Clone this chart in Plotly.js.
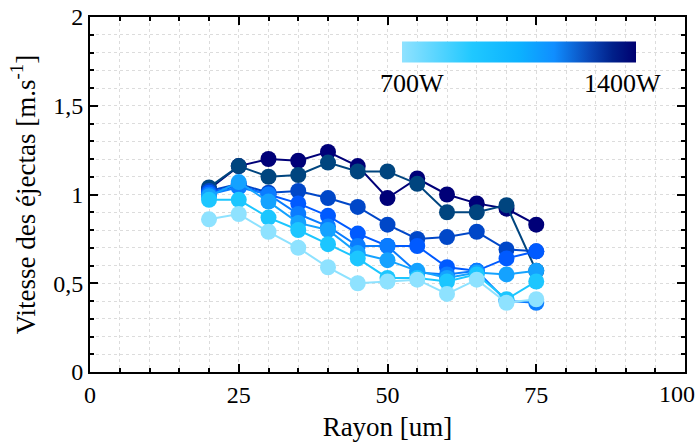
<!DOCTYPE html>
<html><head><meta charset="utf-8">
<script src="https://cdn.plot.ly/plotly-3.0.1.min.js"></script>
<style>body{margin:0;background:#fff}#g{width:700px;height:448px}</style>
</head><body><div id="g"></div>
<script>
const rayon = [20,25,30,35,40,45,50,55,60,65,70,75];
const s700  = [0.86,0.89,0.79,0.70,0.59,0.50,0.51,0.52,0.44,0.52,0.39,0.41];
const s800  = [0.97,0.97,0.87,0.80,0.72,0.64,0.53,0.53,0.51,0.55,0.41,0.51];
const s900  = [0.99,1.07,0.96,0.84,0.80,0.67,0.63,0.57,0.53,0.56,0.55,0.57];
const s1000 = [1.00,1.04,1.00,0.89,0.82,0.71,0.71,0.56,0.55,0.57,0.40,0.39];
const s1100 = [1.01,1.05,1.00,0.95,0.88,0.78,0.71,0.71,0.59,0.57,0.64,0.68];
const s1200 = [1.02,1.06,1.01,1.02,0.98,0.93,0.83,0.75,0.76,0.79,0.69,0.68];
const s1300 = [1.04,1.16,1.10,1.11,1.18,1.13,1.13,1.06,0.90,0.90,0.94,0.57];
const s1400 = [1.03,1.16,1.20,1.19,1.24,1.16,0.98,1.09,1.00,0.95,0.92,0.83];
const series = [s700,s800,s900,s1000,s1100,s1200,s1300,s1400];
const colors = ['#8ee2ff','#1cc6ff','#14a2ff','#0a7cff','#005aff','#0047c8','#00457f','#000078'];
const powerLabels = ['700W','1400W'];
const xTickVals = [0,25,50,75,100];
const xTickText = ['0','25','50','75',''];
const xLastLabel = '100';
const colorscale = [[0,'#90e2ff'],[0.3,'#20c8ff'],[0.5,'#0cb2ff'],[0.65,'#108eff'],[0.8,'#0a48b8'],[0.9,'#00208a'],[1,'#000070']];

const traces = [];
for (let i = series.length - 1; i >= 0; i--) {
  traces.push({
    type:'scatter', mode:'lines+markers', x:rayon, y:series[i],
    line:{color:colors[i], width:2},
    marker:{color:colors[i], size:16},
    showlegend:false, hoverinfo:'skip'
  });
}
traces.push({
  type:'scatter', mode:'markers', x:[null,null], y:[null,null],
  showlegend:false, hoverinfo:'skip',
  marker:{color:[700,1400], cmin:700, cmax:1400, colorscale:colorscale, showscale:true, opacity:0,
    colorbar:{orientation:'h', x:0.721, xanchor:'center', y:0.9, yanchor:'middle',
      len:234, lenmode:'pixels', thickness:21, outlinewidth:0, showticklabels:false, ticks:'',
      xpad:0, ypad:0}}
});

const FAM = 'Liberation Serif';
const font = {family:FAM, color:'#000'};
const axBase = {
  showline:true, linecolor:'#000', linewidth:2, mirror:'allticks',
  ticks:'inside', ticklen:8, tickwidth:2, tickcolor:'#000',
  showgrid:true, gridcolor:'#dcdcdc', griddash:'dot', gridwidth:1,
  zeroline:false,
  tickfont:{family:FAM, size:24, color:'#000'}
};
const layout = {
  width:700, height:448,
  margin:{l:90, r:15, t:17, b:76},
  paper_bgcolor:'#fff', plot_bgcolor:'#fff',
  separators:', ',
  font:font,
  xaxis:Object.assign({}, axBase, {
    range:[0,100], tickmode:'array', tickvals:xTickVals, ticktext:xTickText,
    minor:{dtick:5, ticks:'inside', ticklen:4, tickwidth:2, tickcolor:'#000', showgrid:true, gridcolor:'#dcdcdc', griddash:'dot'},
    title:{text:'Rayon [um]', font:{family:FAM, size:27, color:'#000'}, standoff:10}
  }),
  yaxis:Object.assign({}, axBase, {
    range:[0,2], tickvals:[0,0.5,1,1.5,2],
    minor:{dtick:0.1, ticks:'inside', ticklen:4, tickwidth:2, tickcolor:'#000', showgrid:true, gridcolor:'#dcdcdc', griddash:'dot'},
    title:{text:'Vitesse des éjectas [m.s<sup>-1</sup>]', font:{family:FAM, size:27, color:'#000'}, standoff:10}
  }),
  annotations:[
    {text:powerLabels[0], xref:'paper', yref:'paper', x:(412-90)/595, y:(372-84)/355, showarrow:false, xanchor:'center', yanchor:'middle', font:{family:FAM, size:26, color:'#000'}},
    {text:powerLabels[1], xref:'paper', yref:'paper', x:(622-90)/595, y:(372-84)/355, showarrow:false, xanchor:'center', yanchor:'middle', font:{family:FAM, size:26, color:'#000'}},
    {text:xLastLabel, xref:'paper', yref:'paper', x:(697-90)/595, y:-(394-372)/355, showarrow:false, xanchor:'right', yanchor:'middle', font:{family:FAM, size:24, color:'#000'}}
  ]
};
Plotly.newPlot('g', traces, layout, {staticPlot:true});
</script></body></html>
